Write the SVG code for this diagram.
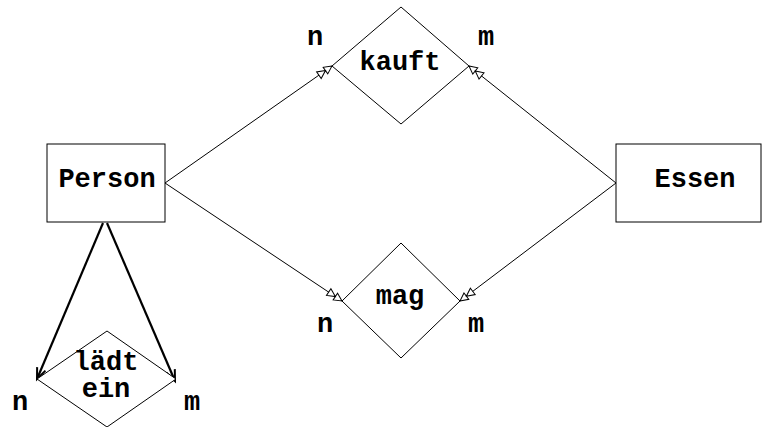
<svg xmlns="http://www.w3.org/2000/svg" width="762" height="427" viewBox="0 0 762 427">
  <style>
    .shape { fill: #fff; stroke: #000; stroke-width: 1; }
    .lbl { font-family: "Courier New", "Nimbus Mono PS", "Nimbus Mono L", "FreeMono", "Liberation Mono", monospace; font-weight: bold; font-size: 27px; text-anchor: middle; fill: #000; }
    .rel { stroke: #000; stroke-width: 1; fill: none; }
    .rec { stroke: #000; stroke-width: 2.2; fill: none; }
  </style>
  <defs>
    <!-- double hollow triangle head -->
    <marker id="dbl" viewBox="-17 -5 18 10" refX="0" refY="0" markerWidth="18" markerHeight="10" markerUnits="userSpaceOnUse" orient="auto" overflow="visible">
      <path d="M0,0 L-8,-4 L-8,4 Z M-8,0 L-16,-4 L-16,4 Z" fill="#fff" stroke="#000" stroke-width="1"/>
    </marker>
    <!-- open stick head -->
    <marker id="open" viewBox="-12 -6 13 12" refX="0" refY="0" markerWidth="13" markerHeight="12" markerUnits="userSpaceOnUse" orient="auto" overflow="visible">
      <path d="M-11,-4.5 L0,0 L-11,4.5" fill="none" stroke="#000" stroke-width="2"/>
    </marker>
  </defs>

  <g id="connectors">
    <line class="rel" x1="165" y1="183" x2="332" y2="66" marker-end="url(#dbl)"/>
    <line class="rel" x1="616" y1="183" x2="469" y2="66" marker-end="url(#dbl)"/>
    <line class="rel" x1="165" y1="183" x2="342" y2="301" marker-end="url(#dbl)"/>
    <line class="rel" x1="616" y1="183" x2="460" y2="301" marker-end="url(#dbl)"/>
    <line class="rec" x1="103" y1="223" x2="37" y2="379" marker-end="url(#open)"/>
    <line class="rec" x1="107" y1="223" x2="175" y2="381" marker-end="url(#open)"/>
  </g>

  <g id="person">
    <rect class="shape" x="47" y="144" width="118" height="78"/>
    <text class="lbl" x="107" y="187">Person</text>
  </g>

  <g id="essen">
    <rect class="shape" x="616" y="144" width="145" height="78"/>
    <text class="lbl" x="695" y="187">Essen</text>
  </g>

  <g id="kauft">
    <polygon class="shape" points="401,7 469,66 401,124 332,66"/>
    <text class="lbl" x="400" y="70">kauft</text>
    <text class="lbl" x="315" y="45">n</text>
    <text class="lbl" x="486" y="45">m</text>
  </g>

  <g id="mag">
    <polygon class="shape" points="401,243 460,301 401,358 342,301"/>
    <text class="lbl" x="400" y="304">mag</text>
    <text class="lbl" x="325" y="332">n</text>
    <text class="lbl" x="476" y="332">m</text>
  </g>

  <g id="laedt-ein">
    <polygon class="shape" points="107,331 176,379 107,427 37,379"/>
    <text class="lbl" x="106" y="370">lädt</text>
    <text class="lbl" x="106" y="397">ein</text>
    <text class="lbl" x="20" y="410">n</text>
    <text class="lbl" x="192" y="410">m</text>
  </g>
</svg>
